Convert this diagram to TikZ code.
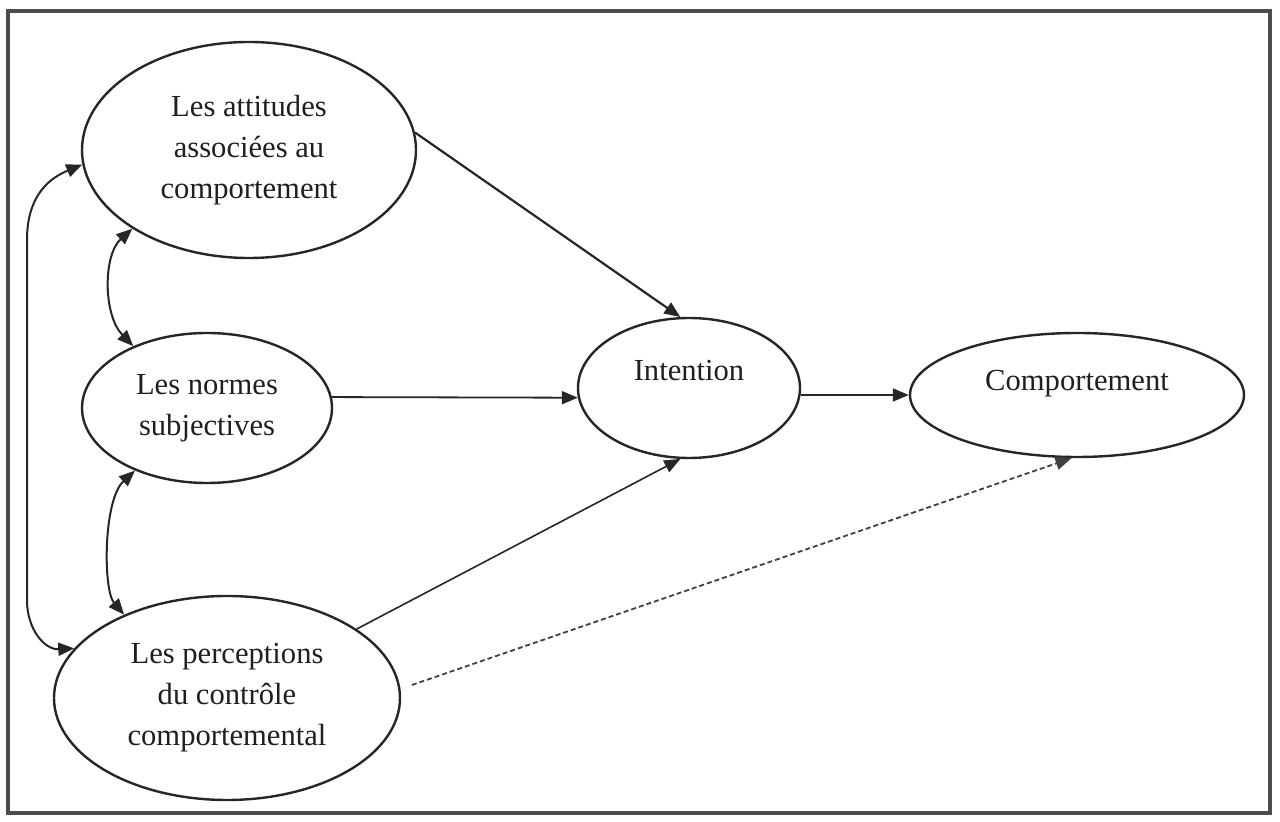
\documentclass[tikz,border=0pt]{standalone}
\usepackage{fontspec}
\setmainfont{Liberation Serif}
\usetikzlibrary{arrows.meta,shapes.geometric}
\begin{document}
\begin{tikzpicture}[x=0.5pt,y=-0.5pt,
  ell/.style={draw=black!85, ellipse, line width=1.2pt, inner sep=0pt, align=center,
    text=black!88, font=\fontsize{15.3}{20.5}\selectfont},
  tipend/.style={-{Triangle[length=8pt,width=6.5pt]}},
  tipboth/.style={{Triangle[length=8pt,width=6.5pt]}-{Triangle[length=8pt,width=6.5pt]}},
  link/.style={draw=black!85, line width=0.9pt, tipend},
  twoway/.style={draw=black!85, line width=1pt, tipboth},
  weak/.style={draw=black!75, line width=0.9pt, dash pattern=on 2.5pt off 1.5pt, tipend},
]
\useasboundingbox (0,0) rectangle (1280,822);
% outer frame
\draw[line width=2pt, black!70] (8,11) rectangle (1270,813);

% constructs
\node[ell, minimum width=167pt, minimum height=108pt] (att) at (249,150)
  {Les attitudes\\associées au\\comportement};
\node[ell, minimum width=125pt, minimum height=75pt] (nor) at (207,408)
  {Les normes\\subjectives};
\node[ell, minimum width=173pt, minimum height=102pt] (per) at (227,698)
  {Les perceptions\\du contrôle\\comportemental};
\node[ell, minimum width=111pt, minimum height=70pt, text depth=18pt] (int) at (689,388)
  {Intention};
\node[ell, minimum width=167pt, minimum height=62pt, text depth=15pt] (com) at (1077,395)
  {Comportement};

% direct effects
\draw[link, line width=1.1pt] (att.6) -- (int.97);
\draw[link] (nor.5) -- (int.185);
\draw[link] (int.east |- com.west) -- (com.west);
\draw[link, line width=0.8pt] (per.28) -- (int.263);
\draw[weak, shorten <=6pt] (per.3) -- (com.265);

% correlations between the antecedents
\draw[twoway] (att.214) .. controls (103,255) and (103,315) .. (nor.140);
\draw[twoway] (nor.221) .. controls (103,500) and (103,590) .. (per.141);
\draw[twoway] (att.185) .. controls (45,180) and (27,200) .. (27,240)
  -- (27,600) .. controls (27,630) and (45,650) .. (per.162);
\end{tikzpicture}
\end{document}
